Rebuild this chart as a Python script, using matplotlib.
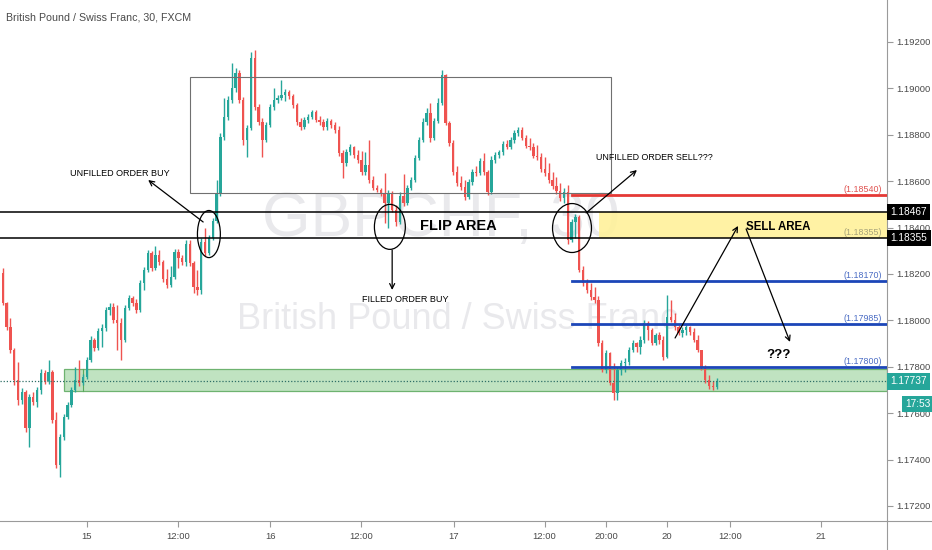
import matplotlib
matplotlib.use('Agg')
import matplotlib.pyplot as plt
import matplotlib.transforms as mtransforms
from matplotlib.patches import Rectangle, Ellipse
from matplotlib.lines import Line2D

# GBPCHF 30 min candles
first_open = 1.18204
closes = [
    1.18074, 1.17971, 1.17872, 1.17743, 1.17657, 1.17691, 1.17536, 1.17670, 1.17648, 1.17700,
    1.17773, 1.17739, 1.17777, 1.17570, 1.17376, 1.17497, 1.17583, 1.17635, 1.17700, 1.17743,
    1.17730, 1.17756, 1.17829, 1.17915, 1.17881, 1.17954, 1.17967, 1.18044, 1.18057, 1.18001,
    1.17988, 1.17915, 1.18053, 1.18097, 1.18074, 1.18044, 1.18161, 1.18217, 1.18290, 1.18226,
    1.18281, 1.18251, 1.18178, 1.18152, 1.18187, 1.18294, 1.18269, 1.18251, 1.18329, 1.18247,
    1.18144, 1.18131, 1.18337, 1.18290, 1.18355, 1.18428, 1.18548, 1.18790, 1.18876, 1.18950,
    1.19002, 1.19066, 1.18950, 1.18777, 1.18829, 1.19131, 1.18920, 1.18854, 1.18777, 1.18841,
    1.18920, 1.18950, 1.18959, 1.18971, 1.18984, 1.18967, 1.18928, 1.18854, 1.18833, 1.18863,
    1.18876, 1.18897, 1.18863, 1.18854, 1.18833, 1.18859, 1.18841, 1.18820, 1.18721, 1.18678,
    1.18725, 1.18747, 1.18712, 1.18691, 1.18639, 1.18669, 1.18605, 1.18571, 1.18561, 1.18548,
    1.18505, 1.18548, 1.18475, 1.18423, 1.18535, 1.18505, 1.18571, 1.18605, 1.18700, 1.18777,
    1.18854, 1.18893, 1.18786, 1.18859, 1.18937, 1.19057, 1.18850, 1.18764, 1.18639, 1.18592,
    1.18575, 1.18531, 1.18596, 1.18639, 1.18635, 1.18687, 1.18639, 1.18552, 1.18691, 1.18712,
    1.18725, 1.18760, 1.18747, 1.18777, 1.18807, 1.18820, 1.18786, 1.18751, 1.18747, 1.18708,
    1.18704, 1.18652, 1.18635, 1.18605, 1.18579, 1.18557, 1.18527, 1.18552, 1.18346, 1.18423,
    1.18445, 1.18217, 1.18161, 1.18131, 1.18101, 1.18087, 1.17902, 1.17786, 1.17859, 1.17730,
    1.17687, 1.17786, 1.17816, 1.17820, 1.17872, 1.17902, 1.17885, 1.17915, 1.17988, 1.17958,
    1.17902, 1.17936, 1.17915, 1.17842, 1.18014, 1.18001, 1.17971, 1.17945, 1.17958, 1.17971,
    1.17949, 1.17915, 1.17872, 1.17799, 1.17743, 1.17717, 1.17713, 1.17737]
highs = [
    1.18226, 1.18078, 1.18010, 1.17881, 1.17820, 1.17708, 1.17700, 1.17683, 1.17691, 1.17713,
    1.17790, 1.17786, 1.17829, 1.17786, 1.17605, 1.17510, 1.17596, 1.17648, 1.17713, 1.17799,
    1.17829, 1.17769, 1.17842, 1.17932, 1.17924, 1.17967, 1.17984, 1.18057, 1.18074, 1.18074,
    1.18065, 1.18010, 1.18065, 1.18109, 1.18105, 1.18092, 1.18174, 1.18230, 1.18303, 1.18299,
    1.18320, 1.18303, 1.18260, 1.18221, 1.18234, 1.18307, 1.18307, 1.18281, 1.18346, 1.18346,
    1.18256, 1.18217, 1.18355, 1.18398, 1.18368, 1.18441, 1.18605, 1.18807, 1.18959, 1.18967,
    1.19109, 1.19088, 1.19079, 1.18963, 1.18841, 1.19157, 1.19165, 1.18932, 1.18871, 1.18854,
    1.18932, 1.19002, 1.18971, 1.19036, 1.18997, 1.18993, 1.18976, 1.18937, 1.18871, 1.18876,
    1.18889, 1.18906, 1.18906, 1.18880, 1.18867, 1.18871, 1.18867, 1.18854, 1.18837, 1.18734,
    1.18738, 1.18760, 1.18751, 1.18734, 1.18730, 1.18725, 1.18777, 1.18622, 1.18584, 1.18571,
    1.18635, 1.18561, 1.18557, 1.18497, 1.18553, 1.18631, 1.18584, 1.18618, 1.18712, 1.18790,
    1.18871, 1.18915, 1.18937, 1.18871, 1.18959, 1.19079, 1.19062, 1.18859, 1.18777, 1.18665,
    1.18622, 1.18605, 1.18610, 1.18652, 1.18665, 1.18700, 1.18721, 1.18648, 1.18708, 1.18725,
    1.18734, 1.18773, 1.18777, 1.18790, 1.18820, 1.18833, 1.18833, 1.18799, 1.18786, 1.18764,
    1.18756, 1.18721, 1.18704, 1.18678, 1.18639, 1.18618, 1.18592, 1.18571, 1.18584, 1.18436,
    1.18458, 1.18454, 1.18234, 1.18178, 1.18161, 1.18144, 1.18105, 1.17915, 1.17872, 1.17864,
    1.17816, 1.17799, 1.17829, 1.17838, 1.17885, 1.17915, 1.17907, 1.17932, 1.18001, 1.17997,
    1.17967, 1.17945, 1.17949, 1.17932, 1.18109, 1.18087, 1.18031, 1.17980, 1.17971, 1.17980,
    1.17975, 1.17967, 1.17937, 1.17872, 1.17807, 1.17764, 1.17739, 1.17752]
lows = [
    1.18065, 1.17958, 1.17859, 1.17721, 1.17635, 1.17639, 1.17519, 1.17454, 1.17635, 1.17626,
    1.17683, 1.17726, 1.17726, 1.17557, 1.17364, 1.17325, 1.17484, 1.17574, 1.17626, 1.17691,
    1.17717, 1.17721, 1.17747, 1.17820, 1.17868, 1.17872, 1.17885, 1.17954, 1.18023, 1.17988,
    1.17872, 1.17829, 1.17907, 1.18044, 1.18061, 1.18031, 1.18035, 1.18131, 1.18208, 1.18213,
    1.18217, 1.18238, 1.18165, 1.18139, 1.18144, 1.18178, 1.18226, 1.18238, 1.18234, 1.18234,
    1.18118, 1.18109, 1.18113, 1.18277, 1.18281, 1.18346, 1.18419, 1.18535, 1.18777, 1.18863,
    1.18937, 1.18984, 1.18937, 1.18756, 1.18704, 1.18820, 1.18906, 1.18841, 1.18704, 1.18768,
    1.18833, 1.18906, 1.18937, 1.18950, 1.18945, 1.18954, 1.18915, 1.18841, 1.18820, 1.18824,
    1.18850, 1.18867, 1.18854, 1.18841, 1.18820, 1.18820, 1.18829, 1.18807, 1.18708, 1.18613,
    1.18665, 1.18712, 1.18700, 1.18678, 1.18626, 1.18626, 1.18592, 1.18561, 1.18553, 1.18535,
    1.18419, 1.18398, 1.18467, 1.18406, 1.18415, 1.18493, 1.18497, 1.18561, 1.18596, 1.18691,
    1.18768, 1.18841, 1.18768, 1.18777, 1.18850, 1.18928, 1.18841, 1.18751, 1.18626, 1.18579,
    1.18561, 1.18518, 1.18523, 1.18584, 1.18622, 1.18626, 1.18626, 1.18540, 1.18544, 1.18678,
    1.18700, 1.18712, 1.18738, 1.18738, 1.18764, 1.18794, 1.18777, 1.18743, 1.18734, 1.18700,
    1.18691, 1.18639, 1.18622, 1.18592, 1.18566, 1.18544, 1.18514, 1.18505, 1.18329, 1.18337,
    1.18355, 1.18208, 1.18148, 1.18118, 1.18087, 1.18074, 1.17889, 1.17777, 1.17773, 1.17721,
    1.17657, 1.17657, 1.17764, 1.17777, 1.17807, 1.17864, 1.17864, 1.17855, 1.17902, 1.17915,
    1.17894, 1.17894, 1.17898, 1.17829, 1.17838, 1.17993, 1.17958, 1.17937, 1.17928, 1.17937,
    1.17937, 1.17907, 1.17864, 1.17786, 1.17730, 1.17704, 1.17700, 1.17704]

x_tick_pos = [22.0, 45.9, 70.1, 93.9, 118.1, 141.9, 158.1, 174.0, 190.5, 214.3]
x_tick_labels = ['15', '12:00', '16', '12:00', '17', '12:00', '20:00', '20', '12:00', '21']
y_ticks = [1.172, 1.174, 1.176, 1.178, 1.180, 1.182, 1.184, 1.186, 1.188, 1.190, 1.192]

flip_top = 1.18467
flip_bottom = 1.18355
sell_level = 1.18540
target_levels = [1.18170, 1.17985, 1.17800]
last_price = 1.17737
zone_top = 1.17790
zone_bottom = 1.17695
countdown = '17:53'

plt.rcParams['font.family'] = ['Liberation Sans', 'DejaVu Sans']

up_col = '#26a69a'
dn_col = '#ef5350'

fig = plt.figure(figsize=(9.32, 5.5), dpi=100)
ax = fig.add_axes([0.0, 29 / 550, 887 / 932, 521 / 550])
ax.set_xlim(-0.71, 231.6)
ax.set_ylim(1.17135, 1.19381)

# watermark
ax.text(0.497, 0.578, 'GBPCHF, 30', transform=ax.transAxes, ha='center', va='center',
        fontsize=45, color='#e9e9ec', zorder=0)
ax.text(0.516, 0.386, 'British Pound / Swiss Franc', transform=ax.transAxes, ha='center',
        va='center', fontsize=26, color='#e9e9ec', zorder=0)

# candles
opens = [first_open] + closes[:-1]
idx = list(range(len(closes)))
cols = [up_col if c >= o else dn_col for o, c in zip(opens, closes)]
ax.vlines(idx, lows, highs, colors=cols, linewidth=1, zorder=3)
bottoms = [min(o, c) for o, c in zip(opens, closes)]
heights = [max(abs(c - o), 0.00003) for o, c in zip(opens, closes)]
ax.bar(idx, heights, bottom=bottoms, width=0.62, color=cols, linewidth=0, zorder=4)

right = ax.get_xlim()[1]

# drawings
ax.add_patch(Rectangle((49.1, 1.18548), 159.3 - 49.1, 1.19049 - 1.18548, fill=False,
                       ec='#707070', lw=0.8, zorder=5))
ax.add_patch(Rectangle((156.2, flip_bottom), right - 156.2, flip_top - flip_bottom,
                       fc='#fff19a', ec='none', alpha=0.9, zorder=2))
ax.axhline(flip_top, color='black', lw=1.1, zorder=6)
ax.axhline(flip_bottom, color='black', lw=1.1, zorder=6)

ax.add_patch(Rectangle((16.05, zone_bottom), right - 16.05, zone_top - zone_bottom,
                       fc='#b5dfb6', ec='#5aa95d', lw=0.9, alpha=0.85, zorder=2))
ax.plot([21.0, 21.0], [zone_bottom, zone_top], color='#5aa95d', lw=0.8, zorder=2)
ax.axhline(last_price, color='#2e6f67', lw=0.9, ls=(0, (1, 1.5)), zorder=6)

ax.plot([149.1, right], [sell_level, sell_level], color='#e53935', lw=2, zorder=6)
ax.text(230.3, sell_level + 0.00004, '({:.5f})'.format(sell_level), ha='right', va='bottom',
        fontsize=6.4, color='#e0514f', zorder=7)
ax.text(230.3, flip_bottom + 0.00004, '({:.5f})'.format(flip_bottom), ha='right',
        va='bottom', fontsize=6.4, color='#a7a37a', zorder=7)
for lv in target_levels:
    ax.plot([149.1, right], [lv, lv], color='#1c46b8', lw=2, zorder=6)
    ax.text(230.3, lv + 0.00004, '({:.5f})'.format(lv), ha='right', va='bottom',
            fontsize=6.4, color='#4a6cc4', zorder=7)

for cx, cy, w, h in [(54.0, 1.18372, 6.0, 0.00203), (101.4, 1.18403, 8.1, 0.00194),
                     (149.1, 1.18398, 10.2, 0.00211)]:
    ax.add_patch(Ellipse((cx, cy), w, h, fill=False, ec='black', lw=0.9, zorder=8))

arrow = dict(arrowstyle='->', color='black', lw=0.9, shrinkA=0, shrinkB=0, mutation_scale=9)
ax.annotate('', xy=(38.1, 1.18605), xytext=(52.5, 1.18424), arrowprops=arrow, zorder=8)
ax.annotate('', xy=(102.0, 1.18131), xytext=(102.0, 1.18303), arrowprops=arrow, zorder=8)
ax.annotate('', xy=(166.1, 1.18648), xytext=(152.8, 1.18463), arrowprops=arrow, zorder=8)
ax.annotate('', xy=(192.6, 1.18407), xytext=(176.1, 1.17924), arrowprops=arrow, zorder=8)
ax.annotate('', xy=(206.2, 1.17907), xytext=(194.7, 1.18394), arrowprops=arrow, zorder=8)

ax.text(30.7, 1.18635, 'UNFILLED ORDER BUY', ha='center', va='center', fontsize=6.5,
        zorder=8)
ax.text(105.4, 1.18088, 'FILLED ORDER BUY', ha='center', va='center', fontsize=6.5,
        zorder=8)
ax.text(170.8, 1.18704, 'UNFILLED ORDER SELL???', ha='center', va='center', fontsize=6.4,
        zorder=8)
ax.text(119.3, 1.18407, 'FLIP AREA', ha='center', va='center', fontsize=10.5,
        fontweight='bold', zorder=8)
ax.text(203.1, 1.18403, 'SELL AREA', ha='center', va='center', fontsize=8.3,
        fontweight='bold', zorder=8)
ax.text(203.1, 1.17851, '???', ha='center', va='center', fontsize=9.5,
        fontweight='bold', zorder=8)

# axes look
for s in ['top', 'left']:
    ax.spines[s].set_visible(False)
ax.spines['right'].set_color('#9a9a9a')
ax.spines['bottom'].set_color('#9a9a9a')
ax.yaxis.tick_right()
ax.set_yticks(y_ticks)
ax.set_yticklabels(['{:.5f}'.format(v) for v in y_ticks])
ax.set_xticks(x_tick_pos)
ax.set_xticklabels(x_tick_labels)
ax.tick_params(axis='y', direction='out', length=4, width=0.8, color='#9a9a9a',
               labelsize=6.8, labelcolor='#4a4a4a', pad=3)
ax.tick_params(axis='x', direction='out', length=4, width=0.8, color='#9a9a9a',
               labelsize=6.8, labelcolor='#4a4a4a', pad=4)

fig.add_artist(Line2D([887 / 932, 887 / 932], [0, 29 / 550], color='#9a9a9a', lw=0.8))
fig.add_artist(Line2D([887 / 932, 1], [29 / 550, 29 / 550], color='#9a9a9a', lw=0.8))

# price tags on the scale
trans = mtransforms.blended_transform_factory(ax.transAxes, ax.transData)
for price, fc in [(flip_top, 'black'), (flip_bottom, 'black'), (last_price, up_col)]:
    ax.text(1.004, price, '{:.5f}'.format(price), transform=trans, ha='left', va='center',
            fontsize=7.3, color='white', clip_on=False, zorder=10,
            bbox=dict(boxstyle='square,pad=0.32', fc=fc, ec='none'))
ax.text(1.021, 1.17640, countdown, transform=trans, ha='left', va='center', fontsize=7.3,
        color='white', clip_on=False, zorder=10,
        bbox=dict(boxstyle='square,pad=0.32', fc=up_col, ec='none'))

fig.text(6 / 932, 1 - 17 / 550, 'British Pound / Swiss Franc, 30, FXCM', ha='left',
         va='center', fontsize=7.7, color='#4a4a4a')

fig.savefig('out.png', dpi=100, facecolor='white')
